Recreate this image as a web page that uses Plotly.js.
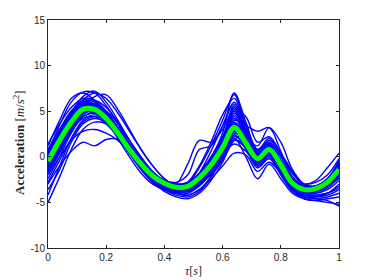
<!DOCTYPE html>
<html>
<head>
<meta charset="utf-8">
<script src="https://cdn.plot.ly/plotly-3.0.1.min.js"></script>
<style>html,body{margin:0;padding:0;background:#fff;}#chart{width:374px;height:280px;}</style>
</head>
<body>
<div id="chart"></div>
<script>
// time samples tau [s]
var tau = [0,0.04,0.08,0.12,0.16,0.20,0.24,0.28,0.32,0.36,0.40,0.44,0.48,0.52,0.56,0.60,0.64,0.68,0.72,0.76,0.80,0.84,0.88,0.92,0.96,1.00];

// mean acceleration (green)
var meanAcc = [-0.5,1.8,3.8,5.2,5.2,4.2,2.6,0.8,-0.8,-2.1,-2.9,-3.35,-3.25,-2.3,-0.9,1.0,3.2,1.5,-0.2,0.8,-0.9,-2.9,-3.6,-3.5,-2.8,-1.4];

// individual trials (blue)
var trial01 = [0.5,3.5,6.0,7.1,7.0,5.6,3.6,1.4,-0.6,-2.2,-3.2,-3.8,-3.6,-2.4,-0.2,2.6,7.0,3.8,0.8,1.6,-0.4,-2.6,-3.8,-3.8,-3.0,-1.2];
var trial02 = [1.2,4.0,6.4,7.0,6.2,4.6,2.6,0.4,-1.4,-2.8,-3.6,-3.9,-3.4,-1.8,0.6,3.4,6.0,2.8,0.2,1.2,-1.0,-3.0,-3.9,-3.6,-2.6,-0.6];
var trial03 = [-0.8,1.6,4.2,6.2,7.0,6.4,4.8,2.8,0.8,-1.0,-2.4,-3.2,-3.4,-2.8,-1.2,1.2,5.2,4.4,1.6,2.2,0.4,-1.8,-3.2,-3.6,-3.2,-2.0];
var trial04 = [-3.0,-1.0,0.6,1.6,1.2,1.9,1.9,0.6,-0.8,-2.0,-2.9,-3.4,-3.4,-2.6,-1.4,0.2,1.4,0.6,-0.8,0.2,-1.2,-2.8,-3.6,-3.6,-3.2,-2.4];
var trial05 = [-2.0,0.0,1.8,2.8,3.0,2.6,1.8,0.6,-0.8,-2.0,-3.0,-3.6,-3.8,-3.2,-1.8,0.0,1.8,1.0,-0.6,0.4,-1.2,-3.0,-4.0,-4.2,-4.0,-3.2];
var trial06 = [-5.0,-2.2,0.8,3.0,3.8,3.6,2.4,0.6,-1.2,-2.6,-3.6,-4.2,-4.4,-3.8,-2.2,0.0,2.2,1.4,-0.8,0.2,-1.6,-3.6,-4.4,-4.6,-4.8,-5.4];
var trial07 = [-4.2,-1.0,2.0,4.0,4.6,4.0,2.4,0.4,-1.4,-2.8,-3.8,-4.4,-4.6,-4.0,-2.6,-0.6,1.8,1.2,-1.0,-0.2,-2.0,-3.8,-4.6,-4.8,-4.6,-4.4];
var trial08 = [0.0,2.2,4.2,5.4,5.4,4.4,2.8,1.0,-0.6,-2.0,-2.8,-3.2,-3.0,-2.0,-0.4,1.6,3.8,1.8,0.0,1.0,-0.8,-2.8,-3.4,-3.2,-2.4,-0.8];
var trial09 = [-1.0,1.2,3.4,4.8,5.0,4.2,2.8,1.0,-0.6,-2.0,-3.0,-3.4,-3.2,-2.4,-1.0,0.8,2.6,1.6,-0.4,0.6,-1.0,-3.0,-3.8,-3.8,-3.2,-2.0];
var trial10 = [0.8,3.0,5.0,6.2,6.0,4.8,3.0,1.0,-0.8,-2.4,-3.4,-3.8,-3.6,-2.6,-1.0,1.4,4.6,2.6,0.4,1.4,-0.4,-2.4,-3.4,-3.4,-2.6,-1.0];
var trial11 = [-1.5,0.8,3.0,4.6,5.2,4.6,3.2,1.4,-0.4,-1.8,-2.6,-2.8,-2.0,0.8,1.2,3.4,5.8,3.2,0.6,1.8,0.2,-1.8,-3.0,-3.2,-2.6,-1.0];
var trial12 = [0.2,2.6,4.8,5.8,5.4,4.0,2.0,0.0,-1.8,-3.0,-3.6,-3.6,-2.8,-1.0,1.6,4.6,6.4,3.0,0.4,1.4,-0.6,-2.6,-3.6,-3.6,-3.0,-1.6];
var trial13 = [-0.4,2.0,4.2,5.6,5.8,4.8,3.0,1.0,-1.0,-2.6,-3.4,-3.6,-3.0,-1.2,1.2,4.0,6.8,3.4,0.8,2.0,0.0,-2.2,-3.4,-3.4,-2.8,-1.4];
var trial14 = [0.4,2.4,4.4,5.6,5.6,4.6,3.0,1.2,-0.6,-2.0,-3.0,-3.4,-3.0,-1.8,-0.2,1.8,4.0,3.4,2.8,3.2,0.6,-2.2,-3.2,-3.2,-2.4,-0.4];
var trial15 = [-1.2,1.0,3.2,4.8,5.4,5.0,3.6,1.8,0.0,-1.6,-2.6,-3.2,-3.4,-3.0,-2.0,-0.4,1.8,2.6,0.6,0.4,0.2,-1.6,-3.2,-3.8,-3.4,-2.2];
var trial16 = [-2.4,0.0,2.6,4.4,4.8,4.2,2.8,1.0,-0.8,-2.2,-3.2,-3.8,-3.8,-3.0,-1.4,0.6,3.0,1.4,-0.6,0.4,-1.4,-3.4,-4.2,-4.4,-4.2,-3.6];
var trial17 = [0.6,2.6,4.6,5.8,5.8,4.8,3.2,1.4,-0.4,-1.8,-2.6,-3.0,-2.8,-2.0,-0.6,1.4,3.6,1.8,-0.2,0.8,-0.6,-2.4,-3.0,-2.8,-2.0,-0.2];
var trial18 = [1.4,3.6,5.4,6.4,6.2,5.0,3.2,1.2,-0.8,-2.2,-3.0,-3.2,-2.8,-1.8,0.0,2.2,5.0,2.4,0.2,1.2,-0.6,-2.4,-3.0,-2.6,-1.2,0.4];
var trial19 = [-0.6,1.6,3.6,5.0,5.2,4.4,2.8,1.0,-0.6,-2.0,-3.0,-3.4,-3.4,-2.6,-1.2,0.6,2.8,1.2,-0.6,0.4,-1.2,-3.2,-4.0,-4.0,-3.6,-2.6];
var trial20 = [-1.8,0.4,2.8,4.4,4.8,4.0,2.4,0.6,-1.0,-2.4,-3.4,-4.0,-4.2,-3.6,-2.2,-0.2,2.0,0.0,-2.4,-0.8,-2.4,-4.0,-4.6,-4.8,-5.0,-5.2];
var trial21 = [-2.8,-0.4,2.0,3.8,4.4,4.0,2.6,0.8,-1.0,-2.4,-3.4,-4.0,-4.2,-3.6,-2.4,-1.0,0.4,0.2,-1.6,-0.6,-1.8,-3.6,-4.4,-4.6,-4.4,-4.0];
var trial22 = [0.2,2.4,4.6,6.0,6.2,5.4,3.8,1.8,-0.2,-1.8,-2.8,-3.2,-3.0,-2.2,-0.8,1.2,3.4,2.0,0.2,1.0,-1.0,-3.0,-3.8,-3.8,-3.0,-1.6];
var trial23 = [-0.2,2.0,4.0,5.4,5.6,4.6,2.8,0.8,-1.2,-2.6,-3.2,-3.0,-0.8,1.8,1.6,3.0,5.2,2.6,-0.2,0.6,-0.8,-2.6,-3.4,-3.4,-2.8,-1.6];
var trial24 = [-0.2,2.0,4.0,5.2,5.2,4.2,2.6,0.8,-1.0,-2.4,-3.2,-3.6,-3.4,-2.4,-0.8,1.4,4.4,2.2,1.2,3.2,1.6,-1.4,-3.0,-3.4,-3.0,-1.8];
var trial25 = [-3.6,-1.4,1.6,3.6,4.2,3.8,2.6,0.8,-1.0,-2.4,-3.4,-3.8,-3.8,-3.0,-1.6,0.4,2.4,0.8,-1.2,-0.2,-1.8,-3.6,-4.2,-4.2,-4.0,-3.4];
var trial26 = [-0.4,2.2,4.8,6.6,7.2,6.0,4.0,1.8,-0.2,-1.8,-3.0,-3.6,-3.6,-2.6,-0.8,1.8,5.6,3.0,0.2,1.2,-0.8,-2.8,-3.6,-3.6,-3.0,-1.8];
var trial27 = [-1.4,0.6,3.0,5.2,6.6,6.8,5.2,3.0,0.8,-1.0,-2.4,-3.2,-3.4,-3.0,-1.6,0.6,3.6,2.6,0.4,1.0,-0.6,-2.4,-3.4,-3.6,-3.0,-1.8];
var trial28 = [0.2,2.6,4.4,5.6,5.6,4.6,3.0,1.2,-0.4,-1.8,-2.8,-3.2,-3.0,-2.2,-0.8,1.2,3.6,2.0,0.2,1.2,-0.6,-2.6,-3.4,-3.4,-2.6,-1.0];
var trial29 = [-1.0,1.4,3.4,4.8,4.8,3.8,2.2,0.4,-1.2,-2.4,-3.2,-3.6,-3.6,-2.8,-1.4,0.6,2.8,1.2,-0.6,0.4,-1.4,-3.2,-4.0,-3.8,-3.2,-2.0];
var trial30 = [0.0,2.0,4.0,5.4,5.6,4.8,3.2,1.4,-0.4,-1.8,-2.8,-3.2,-3.2,-2.4,-0.8,1.2,3.8,2.2,0.0,0.8,-0.8,-2.8,-3.6,-3.6,-3.0,-1.6];
var trial31 = [-0.8,1.4,3.6,5.0,5.2,4.2,2.4,0.6,-1.0,-2.4,-3.2,-3.6,-3.4,-2.6,-1.2,0.8,3.4,1.6,-0.4,0.6,-1.2,-3.0,-3.8,-3.8,-3.2,-2.0];
var trial32 = [0.6,2.8,4.8,6.0,5.8,4.6,2.8,0.8,-1.0,-2.4,-3.2,-3.4,-3.0,-2.0,-0.4,1.8,4.8,2.8,0.6,1.6,-0.4,-2.4,-3.2,-3.2,-2.4,-0.8];
var trial33 = [-0.2,1.8,3.8,5.2,5.4,4.6,3.0,1.2,-0.4,-1.8,-2.6,-3.0,-2.8,-2.0,-0.6,1.4,4.2,2.4,0.2,1.0,-0.8,-2.6,-3.4,-3.4,-2.8,-1.2];
var trial34 = [-1.6,0.6,2.8,4.2,4.4,3.6,2.2,0.4,-1.2,-2.6,-3.6,-4.0,-4.0,-3.2,-1.8,0.2,2.4,1.0,-1.0,0.0,-1.8,-3.6,-4.4,-4.4,-4.0,-3.0];
var trial35 = [0.8,3.0,5.0,6.0,5.6,4.2,2.4,0.4,-1.4,-2.8,-3.6,-3.8,-3.4,-2.2,-0.4,2.0,5.4,2.8,0.2,1.4,-0.6,-2.6,-3.6,-3.6,-2.8,-1.0];

var trials = [trial01,trial02,trial03,trial04,trial05,trial06,trial07,trial08,trial09,trial10,
              trial11,trial12,trial13,trial14,trial15,trial16,trial17,trial18,trial19,trial20,
              trial21,trial22,trial23,trial24,trial25,trial26,trial27,trial28,trial29,trial30,
              trial31,trial32,trial33,trial34,trial35];

var xTicks = [0,0.2,0.4,0.6,0.8,1];
var xTickText = ['0','0.2','0.4','0.6','0.8','1'];
var yTicks = [-10,-5,0,5,10,15];
var yTickText = ['-10','-5','0','5','10','15'];

var traces = trials.map(function(t){
  return {x: tau, y: t, type: 'scatter', mode: 'lines',
          line: {color: '#0000ff', width: 1.4, shape: 'spline', smoothing: 1},
          hoverinfo: 'skip', showlegend: false};
});
traces.push({x: tau, y: meanAcc, type: 'scatter', mode: 'lines',
             line: {color: '#00ff00', width: 5, shape: 'spline', smoothing: 1},
             showlegend: false});

var axisCommon = {
  showline: true, linecolor: '#262626', linewidth: 1, mirror: 'ticks',
  ticks: 'inside', ticklen: 3, tickwidth: 1, tickcolor: '#262626',
  showgrid: false, zeroline: false,
  tickfont: {family: 'Liberation Sans, Arial, sans-serif', size: 10, color: '#262626'}
};

var layout = {
  width: 374, height: 280,
  margin: {l: 48, r: 35, t: 20, b: 32, pad: 0},
  paper_bgcolor: '#ffffff', plot_bgcolor: '#ffffff',
  showlegend: false,
  xaxis: Object.assign({}, axisCommon, {range: [0, 1], tickmode: 'array', tickvals: xTicks, ticktext: xTickText}),
  yaxis: Object.assign({}, axisCommon, {range: [-10, 15], tickmode: 'array', tickvals: yTicks, ticktext: yTickText}),
  annotations: [
    {text: '<i>τ</i>[<i>s</i>]', xref: 'paper', yref: 'paper', x: 0.5, y: -0.1,
     xanchor: 'center', yanchor: 'middle', showarrow: false,
     font: {family: 'Liberation Serif, serif', size: 12, color: '#262626'}},
    {text: '<b>Acceleration</b> [<i>m</i>/<i>s</i><sup>2</sup>]', xref: 'paper', yref: 'paper',
     x: -0.1, y: 0.465, xanchor: 'center', yanchor: 'middle', textangle: -90, showarrow: false,
     font: {family: 'Liberation Serif, serif', size: 13, color: '#262626'}}
  ]
};

Plotly.newPlot('chart', traces, layout, {displayModeBar: false, staticPlot: true});
</script>
</body>
</html>
